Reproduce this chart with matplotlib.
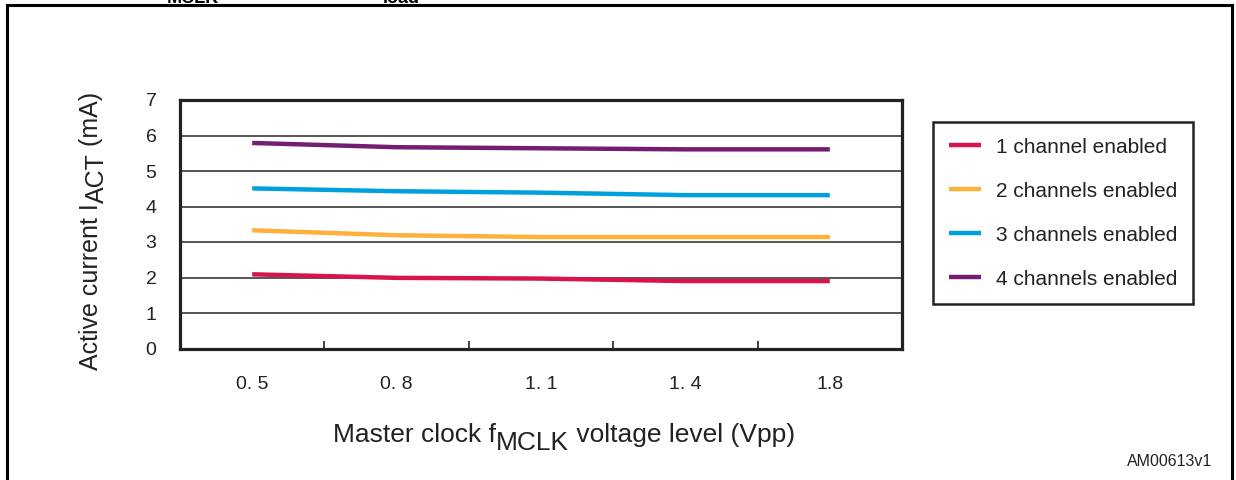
import matplotlib
matplotlib.use("Agg")
import matplotlib.pyplot as plt
from matplotlib.lines import Line2D

plt.rcParams['font.family'] = ['Liberation Sans', 'DejaVu Sans']

# ---- data ----
categories = ["0. 5", "0. 8", "1. 1", "1. 4", "1.8"]
series_labels = ["1 channel enabled", "2 channels enabled",
                 "3 channels enabled", "4 channels enabled"]
ch1 = [2.09, 1.99, 1.97, 1.90, 1.90]
ch2 = [3.33, 3.19, 3.14, 3.14, 3.14]
ch3 = [4.51, 4.43, 4.39, 4.32, 4.32]
ch4 = [5.79, 5.67, 5.64, 5.61, 5.61]
colors = ["#D7154A", "#FDB03A", "#00A0DC", "#751C73"]
yticks = [0, 1, 2, 3, 4, 5, 6, 7]

W, H = 1236, 480
fig = plt.figure(figsize=(W / 100, H / 100), dpi=100)

def fx(px):
    return px / W

def fy(py):
    return 1 - py / H

ax = fig.add_axes([fx(180), fy(348.5), fx(902) - fx(180), fy(100) - fy(348.5)])
xs = list(range(len(categories)))
for vals, col, lab in zip([ch1, ch2, ch3, ch4], colors, series_labels):
    ax.plot(xs, vals, color=col, lw=3.2, label=lab, solid_capstyle='butt', zorder=3)

ax.set_xlim(-0.5, len(categories) - 0.5)
ax.set_ylim(0, 7)
ax.set_xticks(xs)
ax.set_xticklabels(categories, fontsize=14, color='#222')
ax.set_xticks([i + 0.5 for i in xs[:-1]], minor=True)
ax.tick_params(axis='x', which='major', length=0, pad=20)
ax.tick_params(axis='x', which='minor', direction='in', length=6, width=1.3, color='#333')
ax.set_yticks(yticks)
ax.set_yticklabels([str(v) for v in yticks], fontsize=14, color='#222')
ax.tick_params(axis='y', which='major', length=0, pad=17)
ax.set_axisbelow(True)
ax.yaxis.grid(True, color='#3a3a3a', lw=1.2)
for s in ax.spines.values():
    s.set_linewidth(2.3)
    s.set_color('#222')

# legend
leg = ax.legend(loc='upper left', bbox_to_anchor=(fx(933), fy(122)),
                bbox_transform=fig.transFigure, borderaxespad=0,
                fontsize=15, frameon=True, fancybox=False, framealpha=1,
                edgecolor='#222', borderpad=0.75, labelspacing=1.2,
                handlelength=1.55, handletextpad=0.72)
leg.get_frame().set_linewidth(1.8)
for t in leg.get_texts():
    t.set_color('#222')

# composed labels with same-size subscripts
renderer = fig.canvas.get_renderer()

def compose(parts, x0, y0, rotation, size):
    pos = 0.0
    for txt, off in parts:
        if rotation == 0:
            t = fig.text(fx(x0 + pos), fy(y0 + off), txt, fontsize=size, color='#222',
                         ha='left', va='baseline')
            bb = t.get_window_extent(renderer)
            pos += bb.width
        else:
            t = fig.text(fx(x0 + off), fy(y0 - pos), txt, fontsize=size, color='#222',
                         ha='left', va='baseline', rotation=90, rotation_mode='anchor')
            bb = t.get_window_extent(renderer)
            pos += bb.height

compose([("Master clock f", 0), ("MCLK", 8), (" voltage level (Vpp)", 0)], 333, 442, 0, 19)
compose([("Active current I", 0), ("ACT", 6), (" (mA)", 0)], 98, 370, 90, 18)

fig.text(fx(1212), fy(466), "AM00613v1", fontsize=11.5, color='#222', ha='right', va='baseline')

# cut-off caption from above (as in the source page)
fig.text(fx(167), fy(3), "MCLK", fontsize=13, fontweight='bold', ha='left', va='baseline')
fig.text(fx(383), fy(3), "load", fontsize=13, fontweight='bold', ha='left', va='baseline')

# outer frame (top, left, right)
for xd, yd in [([fx(7), fx(7)], [fy(5), 0]), ([fx(7), fx(1232)], [fy(5), fy(5)]),
               ([fx(1232), fx(1232)], [fy(5), 0])]:
    fig.add_artist(Line2D(xd, yd, color='black', lw=2.2, transform=fig.transFigure))

fig.savefig("out.png", dpi=100)
